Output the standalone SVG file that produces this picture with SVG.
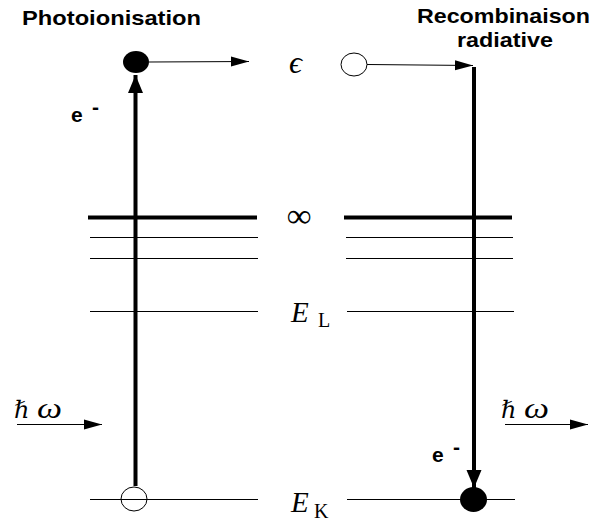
<svg xmlns="http://www.w3.org/2000/svg" width="595" height="524" viewBox="0 0 595 524">
<style>
.title{font-family:"Liberation Sans",Arial,sans-serif;font-weight:bold;font-size:20.5px;fill:#000}
.el{font-family:"Liberation Sans",Arial,sans-serif;font-weight:bold;font-size:21px;fill:#000}
.math{font-family:"Liberation Serif","DejaVu Serif",serif;font-style:italic;fill:#000}
.sub{font-family:"Liberation Serif","DejaVu Serif",serif;font-size:20px;fill:#000}
.lvl{stroke:#000;stroke-width:1;fill:none}
.lvlT{stroke:#000;stroke-width:4;fill:none}
.thick{stroke:#000;stroke-width:4;fill:none}
.thin{stroke:#000;stroke-width:1;fill:none}
</style>
<defs>
<marker id="headBig" markerUnits="userSpaceOnUse" markerWidth="20" markerHeight="16" refX="18" refY="8" orient="auto">
<path d="M0,0.5 L18,8 L0,15.5 Z" fill="#000"/>
</marker>
<marker id="headSmall" markerUnits="userSpaceOnUse" markerWidth="19" markerHeight="12" refX="18" refY="6" orient="auto">
<path d="M0,1 L18,6 L0,11 Z" fill="#000"/>
</marker>
</defs>
<rect width="595" height="524" fill="#fff"/>

<g id="titles">
<text class="title" x="22" y="25" textLength="179" lengthAdjust="spacingAndGlyphs">Photoionisation</text>
<text class="title" x="417" y="23" textLength="173" lengthAdjust="spacingAndGlyphs">Recombinaison</text>
<text class="title" x="457" y="47" textLength="96" lengthAdjust="spacingAndGlyphs">radiative</text>
</g>

<g id="levels">
<line class="lvlT" x1="88" y1="217.5" x2="257" y2="217.5"/>
<line class="lvl" x1="90" y1="237.5" x2="258" y2="237.5"/>
<line class="lvl" x1="90" y1="258.5" x2="258" y2="258.5"/>
<line class="lvl" x1="90" y1="311.5" x2="258" y2="311.5"/>
<line class="lvl" x1="90" y1="499.5" x2="258" y2="499.5"/>
<line class="lvlT" x1="344" y1="217.5" x2="512" y2="217.5"/>
<line class="lvl" x1="346" y1="237.5" x2="513" y2="237.5"/>
<line class="lvl" x1="346" y1="258.5" x2="513" y2="258.5"/>
<line class="lvl" x1="347" y1="311.5" x2="514" y2="311.5"/>
<line class="lvl" x1="347" y1="499.5" x2="515" y2="499.5"/>
</g>

<g id="level-labels">
<text class="math" x="289" y="73" font-size="32">ϵ</text>
<text class="math" x="287" y="227" font-size="34" font-style="normal">∞</text>
<text class="math" x="291" y="322" font-size="29">E</text>
<text class="sub" x="318" y="327">L</text>
<text class="math" x="291" y="512" font-size="29">E</text>
<text class="sub" x="314" y="518">K</text>
</g>

<g id="connectors">
<line class="thick" x1="135.5" y1="486" x2="135.5" y2="75" marker-end="url(#headBig)"/>
<line class="thick" x1="474" y1="67" x2="474" y2="488" marker-end="url(#headBig)"/>
<line class="thin" x1="149" y1="62" x2="249" y2="61.5" marker-end="url(#headSmall)"/>
<line class="thin" x1="367" y1="64.5" x2="473" y2="65.5" marker-end="url(#headSmall)"/>
<line class="thin" x1="17" y1="424.5" x2="102" y2="424.5" marker-end="url(#headSmall)"/>
<line class="thin" x1="505" y1="424.5" x2="588" y2="424.5" marker-end="url(#headSmall)"/>
</g>

<g id="electron-top-left"><ellipse cx="136" cy="62" rx="13" ry="11" fill="#000"/></g>
<g id="hole-top-right"><ellipse cx="354" cy="64.5" rx="13" ry="11.5" fill="#fff" stroke="#000" stroke-width="1"/></g>
<g id="hole-bottom-left"><ellipse cx="134" cy="499" rx="13" ry="12" fill="none" stroke="#000" stroke-width="1"/></g>
<g id="electron-bottom-right"><ellipse cx="473.5" cy="499.5" rx="13.5" ry="12.5" fill="#000"/></g>

<g id="electron-labels">
<text class="el" x="71" y="122">e</text>
<text class="el" x="92" y="114" font-size="14">-</text>
<text class="el" x="432" y="462">e</text>
<text class="el" x="453" y="454" font-size="14">-</text>
</g>

<g id="photon-labels">
<text class="math" x="14" y="418" font-size="24">ℏ</text>
<text class="math" x="37" y="418" font-size="30" textLength="25" lengthAdjust="spacingAndGlyphs">ω</text>
<text class="math" x="501" y="418" font-size="24">ℏ</text>
<text class="math" x="524" y="418" font-size="30" textLength="25" lengthAdjust="spacingAndGlyphs">ω</text>
</g>
</svg>
